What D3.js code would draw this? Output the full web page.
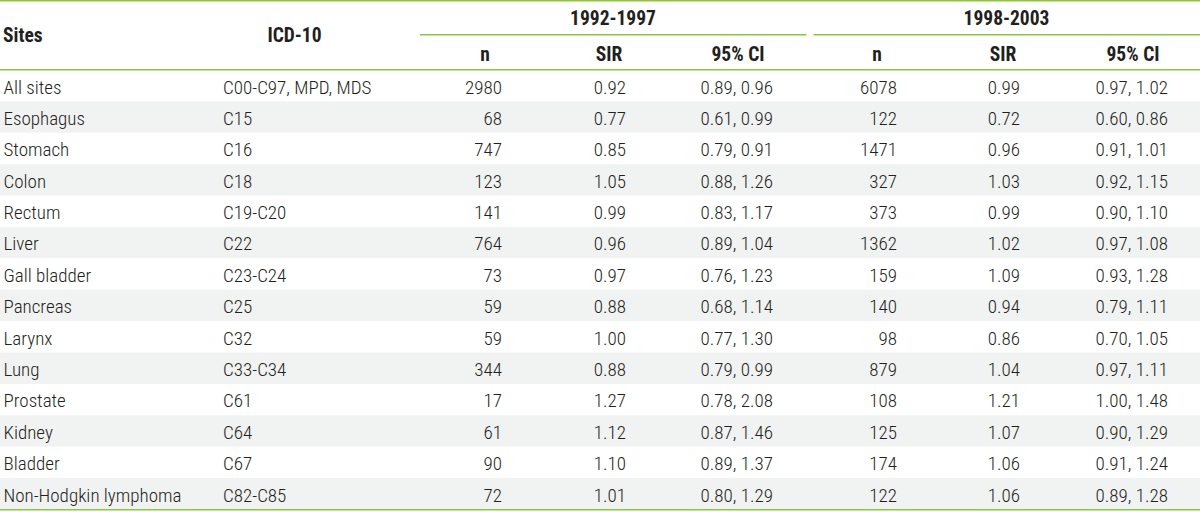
<!DOCTYPE html>
<html>
<head>
<meta charset="utf-8">
<script src="https://cdn.jsdelivr.net/npm/d3@7"></script>
<style>
html,body{margin:0;padding:0;background:#fff;}
svg{display:block;}
text{font-family:"Liberation Sans Narrow","Roboto Condensed","DejaVu Sans Condensed",Roboto,sans-serif;fill:#231f20;}
</style>
</head>
<body>
<svg id="t" width="1200" height="512"></svg>
<script>
const sites = ["All sites","Esophagus","Stomach","Colon","Rectum","Liver","Gall bladder","Pancreas","Larynx","Lung","Prostate","Kidney","Bladder","Non-Hodgkin lymphoma"];
const icd = ["C00-C97, MPD, MDS","C15","C16","C18","C19-C20","C22","C23-C24","C25","C32","C33-C34","C61","C64","C67","C82-C85"];
const n1 = [2980,68,747,123,141,764,73,59,59,344,17,61,90,72];
const sir1 = [0.92,0.77,0.85,1.05,0.99,0.96,0.97,0.88,1.00,0.88,1.27,1.12,1.10,1.01];
const lo1 = [0.89,0.61,0.79,0.88,0.83,0.89,0.76,0.68,0.77,0.79,0.78,0.87,0.89,0.80];
const hi1 = [0.96,0.99,0.91,1.26,1.17,1.04,1.23,1.14,1.30,0.99,2.08,1.46,1.37,1.29];
const n2 = [6078,122,1471,327,373,1362,159,140,98,879,108,125,174,122];
const sir2 = [0.99,0.72,0.96,1.03,0.99,1.02,1.09,0.94,0.86,1.04,1.21,1.07,1.06,1.06];
const lo2 = [0.97,0.60,0.91,0.92,0.90,0.97,0.93,0.79,0.70,0.97,1.00,0.90,0.91,0.89];
const hi2 = [1.02,0.86,1.01,1.15,1.10,1.08,1.28,1.11,1.05,1.11,1.48,1.29,1.24,1.28];
const groups = ["1992-1997","1998-2003"];
const subHeads = ["n","SIR","95% CI"];

const W = 1200, H = 512;
const green = "#8cc63f", stripe = "#f1f2f2";
const svg = d3.select("#t");
const f2 = d3.format(".2f");

const y = d3.scaleBand().domain(sites).range([70, 509.5]);

svg.append("g").selectAll("rect").data(sites).join("rect")
  .attr("x", 0).attr("width", W)
  .attr("y", d => y(d)).attr("height", y.bandwidth())
  .attr("fill", (d,i) => i % 2 ? stripe : "#fff");

const lines = [
  {x1:0,x2:W,y:0.7},
  {x1:420,x2:806.5,y:34.7},
  {x1:813.5,x2:W,y:34.7},
  {x1:0,x2:W,y:69.7},
  {x1:0,x2:W,y:509.8}
];
svg.append("g").selectAll("line").data(lines).join("line")
  .attr("x1", d => d.x1).attr("x2", d => d.x2)
  .attr("y1", d => d.y).attr("y2", d => d.y)
  .attr("stroke", green).attr("stroke-width", 1.5);

const hs = 19.5, fs = 19;
const hdr = svg.append("g").attr("font-weight", "bold").attr("font-size", hs);
hdr.append("text").attr("x", 3).attr("y", 42).text("Sites");
hdr.append("text").attr("x", 294.5).attr("y", 42).attr("text-anchor", "middle").text("ICD-10");
const groupCx = [613, 1006.5];
hdr.selectAll("text.g").data(groups).join("text").attr("class","g")
  .attr("x", (d,i) => groupCx[i]).attr("y", 25).attr("text-anchor","middle").text(d => d);
const subCx = [485, 609, 738, 877, 1003, 1133];
hdr.selectAll("text.s").data(subCx).join("text").attr("class","s")
  .attr("x", d => d).attr("y", 60.5).attr("text-anchor","middle")
  .text((d,i) => subHeads[i % 3]);

const colRight = [502, 626, 773, 897, 1020, 1168];
const rows = sites.map((s,i) => ({
  site: s, icd: icd[i],
  vals: [String(n1[i]), f2(sir1[i]), f2(lo1[i]) + ", " + f2(hi1[i]),
         String(n2[i]), f2(sir2[i]), f2(lo2[i]) + ", " + f2(hi2[i])]
}));
const body = svg.append("g").attr("font-size", fs).attr("font-weight", 300);
const rg = body.selectAll("g").data(rows).join("g")
  .attr("transform", d => `translate(0,${y(d.site) + 23.5})`);
rg.append("text").attr("x", 3.5).text(d => d.site);
rg.append("text").attr("x", 223).text(d => d.icd);
rg.selectAll("text.v").data(d => d.vals).join("text").attr("class","v")
  .attr("x", (d,i) => colRight[i]).attr("text-anchor","end").text(d => d);
</script>
</body>
</html>
